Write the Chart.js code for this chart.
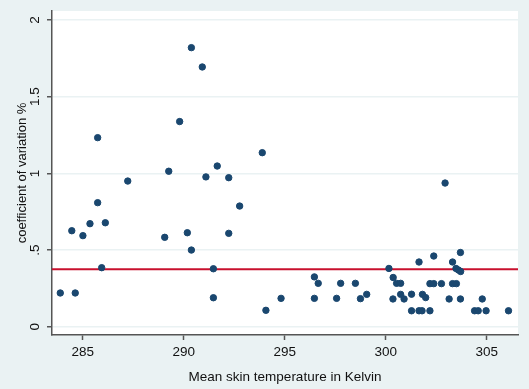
<!DOCTYPE html>
<html>
<head>
<meta charset="utf-8">
<script src="https://cdn.jsdelivr.net/npm/chart.js@4.4.1/dist/chart.umd.min.js"></script>
<style>
  html, body { margin: 0; padding: 0; background: #EAF2F3; }
</style>
</head>
<body>
<canvas id="skinChart" width="529" height="389"></canvas>
<script>
// mean skin temperature (K) and coefficient of variation (%)
const tempK = [
  283.89, 284.46, 284.63, 285.01, 285.36, 285.74, 285.74, 285.94, 286.12, 287.23,
  289.06, 289.26, 289.80, 290.18, 290.38, 290.38, 290.92, 291.10, 291.47, 291.47,
  291.66, 292.23, 292.23, 292.77, 293.89, 294.07, 294.82, 296.47, 296.66, 296.47,
  297.57, 297.77, 298.50, 298.75, 299.06, 300.16, 300.37, 300.54, 300.74, 300.36,
  300.74, 300.91, 301.28, 301.28, 301.65, 301.80, 302.19, 301.65, 301.82, 301.98,
  302.19, 302.38, 302.38, 302.76, 302.94, 303.14, 303.31, 303.31, 303.50, 303.48,
  303.60, 303.71, 303.70, 303.70, 304.40, 304.58, 304.78, 304.97, 306.08
];
const cvPct = [
  0.220, 0.626, 0.220, 0.594, 0.672, 1.233, 0.809, 0.385, 0.678, 0.950,
  0.583, 1.014, 1.338, 0.613, 1.820, 0.500, 1.694, 0.977, 0.378, 0.189,
  1.048, 0.972, 0.609, 0.787, 1.135, 0.107, 0.185, 0.325, 0.283, 0.185,
  0.185, 0.283, 0.283, 0.183, 0.211, 0.380, 0.321, 0.283, 0.283, 0.181,
  0.211, 0.181, 0.212, 0.104, 0.104, 0.104, 0.104, 0.422, 0.211, 0.190,
  0.281, 0.281, 0.461, 0.281, 0.937, 0.181, 0.422, 0.281, 0.281, 0.380,
  0.370, 0.360, 0.484, 0.181, 0.104, 0.104, 0.181, 0.104, 0.104
];
const meanCv = 0.375;
const xTicks = [285, 290, 295, 300, 305];
const yTicks = [0, 0.5, 1, 1.5, 2];
const xMin = 283.48, xMax = 306.55;
const yMin = -0.054, yMax = 2.059;

const axisCol = "#555555";
const bgCol = "#EAF2F3";

// outer region bluish, plot region white (stata look)
const bgPlugin = {
  id: "bg",
  beforeDraw(chart) {
    const { ctx, chartArea: a } = chart;
    ctx.save();
    ctx.fillStyle = bgCol;
    ctx.fillRect(0, 0, chart.width, chart.height);
    ctx.fillStyle = "#ffffff";
    ctx.fillRect(a.left, a.top, a.right - a.left, a.bottom - a.top);
    ctx.restore();
  }
};

const ctx = document.getElementById("skinChart");
new Chart(ctx, {
  type: "scatter",
  data: {
    datasets: [
      {
        data: tempK.map((t, i) => ({ x: t, y: cvPct[i] })),
        backgroundColor: "#1A476F",
        borderColor: "#1A476F",
        borderWidth: 1,
        pointRadius: 3.2,
        order: 1
      },
      {
        data: [{ x: xMin, y: meanCv }, { x: xMax, y: meanCv }],
        showLine: true,
        pointRadius: 0,
        borderColor: "#C8102E",
        borderWidth: 2,
        order: 2
      }
    ]
  },
  options: {
    responsive: false,
    animation: false,
    layout: { padding: { top: 11, right: 11, left: 0, bottom: 0 } },
    plugins: { legend: { display: false }, tooltip: { enabled: false } },
    scales: {
      x: {
        type: "linear",
        min: xMin,
        max: xMax,
        afterBuildTicks: (s) => { s.ticks = xTicks.map((v) => ({ value: v })); },
        afterFit: (s) => { s.height = 54; },
        grid: { drawOnChartArea: false, tickLength: 5, tickColor: axisCol, tickWidth: 1.5 },
        border: { color: axisCol, width: 1.5 },
        ticks: { color: "#111", font: { family: "Liberation Sans", size: 13.5 }, padding: 4, maxRotation: 0 },
        title: {
          display: true,
          text: "Mean skin temperature in Kelvin",
          color: "#111",
          font: { family: "Liberation Sans", size: 13.5 },
          padding: { top: 1 }
        }
      },
      y: {
        min: yMin,
        max: yMax,
        afterBuildTicks: (s) => { s.ticks = yTicks.map((v) => ({ value: v })); },
        afterFit: (s) => { s.width = 52; },
        grid: { color: bgCol, lineWidth: 1.5, tickLength: 5, tickColor: axisCol, tickWidth: 1.5 },
        border: { color: axisCol, width: 1.5 },
        ticks: {
          color: "#111",
          font: { family: "Liberation Sans", size: 13.5 },
          minRotation: 90,
          maxRotation: 90,
          crossAlign: "center",
          padding: 2,
          callback: (v) => (v === 0 ? "0" : String(v).replace(/^0\./, "."))
        },
        title: {
          display: true,
          text: "coefficient of variation %",
          color: "#111",
          font: { family: "Liberation Sans", size: 13 },
          padding: { top: 15 }
        }
      }
    }
  },
  plugins: [bgPlugin]
});
</script>
</body>
</html>
